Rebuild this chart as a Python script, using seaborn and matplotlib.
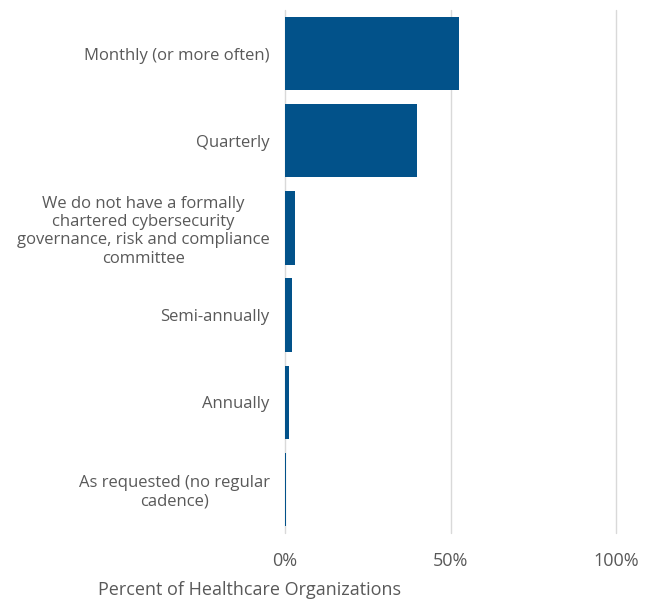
import matplotlib
matplotlib.use("Agg")
import matplotlib.pyplot as plt
import seaborn as sns
import pandas as pd

categories = [
    "Monthly (or more often)",
    "Quarterly",
    "We do not have a formally\nchartered cybersecurity\ngovernance, risk and compliance\ncommittee",
    "Semi-annually",
    "Annually",
    "As requested (no regular\ncadence)",
]
values = [52.4, 39.9, 3.1, 2.1, 1.3, 0.3]
tick_values = [0, 50, 100]
tick_labels = ["0%", "50%", "100%"]
xlabel = "Percent of Healthcare Organizations"

sns.set_theme(style="white")
plt.rcParams['font.family'] = ['Open Sans', 'DejaVu Sans']

df = pd.DataFrame({"category": categories, "value": values})

fig = plt.figure(figsize=(6.59, 6.0), dpi=100)
ax = fig.add_axes([0.4325, 0.112, 0.5025, 0.871])
sns.barplot(data=df, y="category", x="value", color="#02528A", saturation=1,
            width=0.84, ax=ax, orient="h", linewidth=0, edgecolor="none")
ax.set_xlim(0, 100)
ax.set_xticks(tick_values)
ax.set_xticklabels(tick_labels, fontsize=13, color="#595959")
ax.tick_params(axis="x", length=0, pad=14)
ax.tick_params(axis="y", length=0, pad=11)
for lbl in ax.get_yticklabels():
    lbl.set_multialignment("center")
    lbl.set_fontsize(12)
    lbl.set_color("#595959")
ax.set_ylabel("")
ax.set_xlabel("")
for x in tick_values:
    ax.axvline(x, color="#D9D9D9", lw=1, zorder=0, clip_on=False)
for s in ax.spines.values():
    s.set_visible(False)
ax.set_axisbelow(True)
fig.text(0.379, 0.0167, xlabel, ha="center", va="center", fontsize=13, color="#595959")
fig.savefig("out.png", dpi=100)
